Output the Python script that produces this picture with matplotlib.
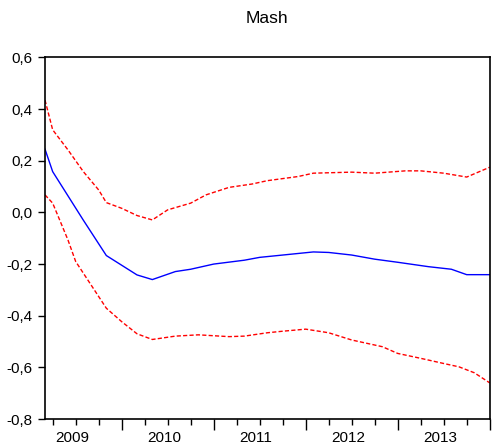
#!/usr/bin/env python3

import matplotlib
matplotlib.use('Agg')
import matplotlib.pyplot as plt
import pandas as pd
from matplotlib.ticker import FixedLocator, FuncFormatter

# Monthly sample, months counted from the first observation (2009M03)
start = pd.Period('2009-03', freq='M')
end = pd.Period('2014-01', freq='M')
years = [2009, 2010, 2011, 2012, 2013]

# Response (blue)
resp_month = [0, 1, 5, 8, 12, 14, 17, 19, 22, 26, 28, 31, 35, 37, 40, 43, 46, 50, 53, 55, 58]
resp_value = [0.245, 0.158, -0.03, -0.167, -0.242, -0.26, -0.229, -0.22, -0.2, -0.185,
              -0.174, -0.165, -0.153, -0.155, -0.165, -0.181, -0.193, -0.21, -0.22, -0.241, -0.241]

# Upper band (red dashed)
upper_month = [0, 1, 3, 5, 7, 8, 10, 12, 14, 16, 19, 21, 24, 27, 29, 33, 35, 40, 43, 47, 49, 52, 55, 58]
upper_value = [0.435, 0.32, 0.242, 0.158, 0.087, 0.038, 0.016, -0.012, -0.029, 0.01, 0.036,
               0.068, 0.097, 0.11, 0.123, 0.139, 0.152, 0.156, 0.152, 0.161, 0.161, 0.152, 0.137, 0.175]

# Lower band (red dashed)
lower_month = [0, 1, 3, 4, 8, 10, 12, 14, 17, 20, 24, 26, 29, 31, 34, 37, 40, 44, 46, 49, 52, 54, 56, 58]
lower_value = [0.068, 0.036, -0.107, -0.19, -0.371, -0.423, -0.47, -0.492, -0.479, -0.474,
               -0.481, -0.479, -0.466, -0.46, -0.452, -0.466, -0.494, -0.52, -0.546, -0.565,
               -0.585, -0.598, -0.621, -0.66]

plt.rcParams['font.family'] = ['Liberation Sans', 'DejaVu Sans']

fig = plt.figure(figsize=(4.94, 4.45), dpi=100)
ax = fig.add_axes([0.0911, 0.0584, 0.9002, 0.8124])

ax.plot(upper_month, upper_value, color='#FF0000', lw=1.0, dashes=(3, 1.6))
ax.plot(lower_month, lower_value, color='#FF0000', lw=1.0, dashes=(3, 1.6))
ax.plot(resp_month, resp_value, color='#0000FF', lw=1.0)

ax.set_xlim(0, (end - start).n)
ax.set_ylim(-0.8, 0.6)

# y axis with decimal comma
ax.set_yticks([-0.8, -0.6, -0.4, -0.2, 0.0, 0.2, 0.4, 0.6])
ax.yaxis.set_major_formatter(FuncFormatter(lambda v, pos: f'{v:.1f}'.replace('.', ',')))
ax.tick_params(axis='y', direction='out', length=5, width=1, labelsize=11, pad=4)

# x axis: long ticks at year starts, short ticks at quarters, year labels mid-year
months = pd.period_range(start, end, freq='M')
year_ticks = [(m - start).n for m in months if m.month == 1]
quarter_ticks = [(m - start).n for m in months if m.month in (4, 7, 10)]
ax.xaxis.set_major_locator(FixedLocator(year_ticks))
ax.xaxis.set_minor_locator(FixedLocator(quarter_ticks))
ax.set_xticklabels([])
ax.tick_params(axis='x', which='major', direction='out', length=8, width=1)
ax.tick_params(axis='x', which='minor', direction='out', length=4.5, width=1)
for yr in years:
    mid = (pd.Period(f'{yr}-07', freq='M') - start).n - 0.5
    ax.annotate(str(yr), xy=(mid, 0), xycoords=('data', 'axes fraction'),
                xytext=(0, -14), textcoords='offset points',
                ha='center', va='center', fontsize=11)

for s in ax.spines.values():
    s.set_linewidth(1.2)
    s.set_color('black')

fig.text(0.541, 0.958, 'Mash', ha='center', va='center', fontsize=12.5)

fig.savefig('out.png', dpi=100)
plt.close(fig)
